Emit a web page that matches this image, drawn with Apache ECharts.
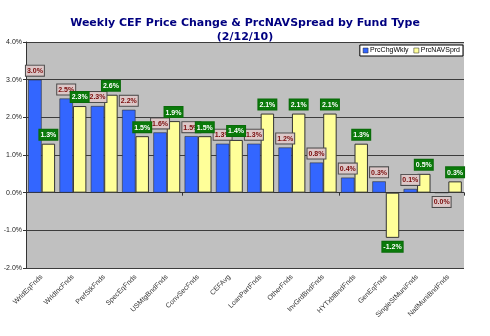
<!DOCTYPE html>
<html>
<head>
<meta charset="utf-8">
<script src="https://cdn.jsdelivr.net/npm/echarts@6/dist/echarts.min.js"></script>
<style>
  html, body { margin: 0; padding: 0; background: #ffffff; }
  #chart { width: 490px; height: 336px; }
</style>
</head>
<body>
<div id="chart"></div>
<script>
// Fund type categories
const categories = [
  'WrldEqFnds', 'WrldIncFnds', 'PrefStkFnds', 'SpecEqFnds', 'USMtgBndFnds',
  'ConvSecFnds', 'CEFAvg', 'LoanPartFnds', 'OtherFnds', 'InvGrdBndFnds',
  'HYTxblBndFnds', 'GenEqFnds', 'SingleStMuniFnds', 'NatlMuniBndFnds'
];
// Weekly price change (%)
const prcChgWkly = [3.0, 2.5, 2.3, 2.2, 1.6, 1.5, 1.3, 1.3, 1.2, 0.8, 0.4, 0.3, 0.1, 0.0];
// Price / NAV spread (%)
const prcNAVSprd = [1.3, 2.3, 2.6, 1.5, 1.9, 1.5, 1.4, 2.1, 2.1, 2.1, 1.3, -1.2, 0.5, 0.3];
// Value axis ticks (%)
const yTicks = { min: -2, max: 4, step: 1 };

const fmt = v => v.toFixed(1) + '%';

function makeData(values, labelBase) {
  return values.map(v => ({
    value: v,
    label: Object.assign({}, labelBase, { position: v <= 0 ? 'bottom' : 'top' })
  }));
}

const blueLabel = {
  show: true,
  distance: 4,
  formatter: p => fmt(p.value),
  fontFamily: 'Liberation Sans, Arial, sans-serif',
  fontSize: 7,
  fontWeight: 'bold',
  color: '#7a0a0a',
  backgroundColor: '#dcc8c8',
  borderColor: '#4a4a4a',
  borderWidth: 1,
  padding: [2, 1, 1, 1]
};
const greenLabel = {
  show: true,
  distance: 4,
  formatter: p => fmt(p.value),
  fontFamily: 'Liberation Sans, Arial, sans-serif',
  fontSize: 7,
  fontWeight: 'bold',
  color: '#ffffff',
  backgroundColor: '#0a7a0a',
  borderColor: '#0a6a0a',
  borderWidth: 1,
  padding: [2, 1, 1, 1]
};

const chart = echarts.init(document.getElementById('chart'), null, { renderer: 'canvas' });
chart.setOption({
  animation: false,
  backgroundColor: '#ffffff',
  title: {
    text: 'Weekly CEF Price Change & PrcNAVSpread by Fund Type\n(2/12/10)',
    left: 'center',
    top: 11,
    textStyle: {
      fontFamily: 'DejaVu Sans, Verdana, sans-serif',
      fontSize: 11,
      fontWeight: 'bold',
      color: '#000080',
      lineHeight: 14
    }
  },
  legend: {
    right: 27,
    top: 45,
    itemWidth: 5,
    itemHeight: 5,
    itemGap: 5,
    padding: [2, 3],
    backgroundColor: '#ffffff',
    borderColor: '#000000',
    borderWidth: 1,
    textStyle: { fontFamily: 'Liberation Sans, Arial, sans-serif', fontSize: 7, color: '#000000', padding: [0, 0, 0, -3] },
    data: [
      { name: 'PrcChgWkly', icon: 'rect', itemStyle: { color: '#3366ff', borderColor: '#222222', borderWidth: 0.5 } },
      { name: 'PrcNAVSprd', icon: 'rect', itemStyle: { color: '#ffff99', borderColor: '#222222', borderWidth: 0.5 } }
    ]
  },
  grid: { left: 26, right: 26, top: 42, bottom: 68, show: true, backgroundColor: '#c0c0c0', borderWidth: 0 },
  xAxis: [
    {
      type: 'category',
      data: categories,
      axisLine: { onZero: true, lineStyle: { color: '#333333', width: 1 } },
      axisTick: { show: true, length: 3, lineStyle: { color: '#333333' } },
      axisLabel: { show: false }
    },
    {
      type: 'category',
      data: categories,
      position: 'bottom',
      axisLine: { show: false },
      axisTick: { show: false },
      axisLabel: {
        rotate: 45,
        margin: 8,
        interval: 0,
        fontFamily: 'Liberation Sans, Arial, sans-serif',
        fontSize: 7,
        color: '#333333'
      }
    }
  ],
  yAxis: {
    type: 'value',
    min: yTicks.min,
    max: yTicks.max,
    interval: yTicks.step,
    axisLine: { show: true, lineStyle: { color: '#333333', width: 1 } },
    axisTick: { show: true, length: 3, lineStyle: { color: '#333333' } },
    splitLine: { show: true, lineStyle: { color: '#3c3c3c', width: 1 } },
    axisLabel: {
      formatter: v => fmt(v),
      margin: 4,
      fontFamily: 'Liberation Sans, Arial, sans-serif',
      fontSize: 7,
      color: '#222222'
    }
  },
  series: [
    {
      name: 'PrcChgWkly',
      type: 'bar',
      xAxisIndex: 0,
      barGap: '0%',
      barCategoryGap: '14%',
      itemStyle: { color: '#3366ff', borderColor: '#333333', borderWidth: 0.6 },
      data: makeData(prcChgWkly, blueLabel)
    },
    {
      name: 'PrcNAVSprd',
      type: 'bar',
      xAxisIndex: 0,
      barGap: '0%',
      barCategoryGap: '14%',
      itemStyle: { color: '#ffff99', borderColor: '#333333', borderWidth: 1 },
      data: makeData(prcNAVSprd, greenLabel)
    }
  ]
});
</script>
</body>
</html>
